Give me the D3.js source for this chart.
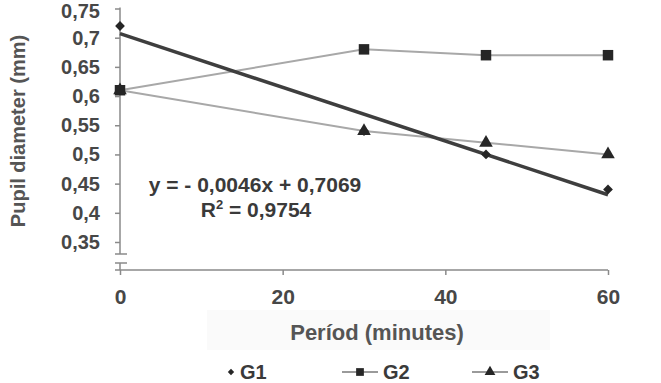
<!DOCTYPE html>
<html>
<head>
<meta charset="utf-8">
<script src="https://cdn.jsdelivr.net/npm/d3@7"></script>
<style>
html,body{margin:0;padding:0;background:#fff;}
svg{display:block;font-family:"Liberation Sans",Arial,sans-serif;}
</style>
</head>
<body>
<svg id="chart" width="661" height="383"></svg>
<script>
// ---- data ----
const periods = [0, 30, 45, 60];
const g1 = [0.72, 0.54, 0.50, 0.44];
const g2 = [0.61, 0.68, 0.67, 0.67];
const g3 = [0.61, 0.54, 0.52, 0.50];
const seriesNames = ["G1", "G2", "G3"];
const yTicks = [0.35, 0.40, 0.45, 0.50, 0.55, 0.60, 0.65, 0.70, 0.75];
const xTicks = [0, 20, 40, 60];
const trendSlope = -0.0046;
const trendIntercept = 0.7069;
const equationText = "y = - 0,0046x + 0,7069";
const r2Text = "0,9754";

const svg = d3.select("#chart");
const x = d3.scaleLinear().domain([0, 60]).range([120, 608]);
const y = d3.scaleLinear().domain([0.35, 0.75]).range([242, 8.5]);
const axisColor = "#8a8a8a";
const labelColor = "#474747";
const fmt = v => String(+v.toFixed(2)).replace(".", ",");

// faint background patch behind x title
svg.append("rect").attr("x", 207).attr("y", 310).attr("width", 343).attr("height", 40).attr("fill", "#fafafa");

// y axis
const yAxis = d3.axisLeft(y).tickValues(yTicks).tickSize(5).tickPadding(15).tickFormat(fmt);
const gy = svg.append("g").attr("transform", "translate(120,0)").call(yAxis);
gy.select(".domain").remove();
gy.selectAll(".tick line").attr("stroke", axisColor).attr("stroke-width", 1.5);
gy.selectAll(".tick text").attr("fill", labelColor).attr("font-size", 20).attr("font-weight", "bold")
  .attr("font-family", "'Liberation Sans',Arial,sans-serif")
  .attr("y", d => d === 0.75 ? 3 : 0);
// axis line with break
svg.append("line").attr("x1", 120).attr("x2", 120).attr("y1", y(0.75) - 1).attr("y2", 254)
  .attr("stroke", axisColor).attr("stroke-width", 1.5);
svg.append("line").attr("x1", 115).attr("x2", 127).attr("y1", 254).attr("y2", 254)
  .attr("stroke", axisColor).attr("stroke-width", 1.5);
svg.append("line").attr("x1", 115).attr("x2", 127).attr("y1", 263).attr("y2", 263)
  .attr("stroke", axisColor).attr("stroke-width", 1.5);
svg.append("line").attr("x1", 120).attr("x2", 120).attr("y1", 263).attr("y2", 270)
  .attr("stroke", axisColor).attr("stroke-width", 1.5);

// x axis
const xAxis = d3.axisBottom(x).tickValues(xTicks).tickSize(5).tickPadding(14).tickFormat(d3.format("d"));
const gx = svg.append("g").attr("transform", "translate(0,270)").call(xAxis);
gx.select(".domain").remove();
gx.selectAll(".tick line").attr("stroke", axisColor).attr("stroke-width", 1.5);
gx.selectAll(".tick text").attr("fill", labelColor).attr("font-size", 21).attr("font-weight", "bold")
  .attr("font-family", "'Liberation Sans',Arial,sans-serif");
svg.append("line").attr("x1", 115).attr("x2", x(60)).attr("y1", 270).attr("y2", 270)
  .attr("stroke", axisColor).attr("stroke-width", 1.5);

// axis titles
svg.append("text").attr("transform", "translate(25,131) rotate(-90)")
  .attr("text-anchor", "middle").attr("font-size", 20).attr("font-weight", "bold").attr("fill", "#555")
  .text("Pupil diameter (mm)");
svg.append("text").attr("x", 377).attr("y", 340)
  .attr("text-anchor", "middle").attr("font-size", 22).attr("font-weight", "bold").attr("fill", "#555")
  .text("Períod (minutes)");

// lines
const line = d3.line().x((d, i) => x(periods[i])).y(d => y(d));
svg.append("path").attr("d", line(g2)).attr("fill", "none").attr("stroke", "#a8a8a8").attr("stroke-width", 2);
svg.append("path").attr("d", line(g3)).attr("fill", "none").attr("stroke", "#a8a8a8").attr("stroke-width", 2);

// trend line
const trendX = [0, 60];
svg.append("path")
  .attr("d", d3.line().x(d => x(d)).y(d => y(trendSlope * d + trendIntercept))(trendX))
  .attr("fill", "none").attr("stroke", "#3e3e3e").attr("stroke-width", 3.5);

// markers
const markerColor = "#262626";
const shapes = {
  G1: { sym: d3.symbol().type(d3.symbolSquare).size(48), rot: 45 },
  G2: { sym: d3.symbol().type(d3.symbolSquare).size(110), rot: 0 },
  G3: { sym: d3.symbol().type(d3.symbolTriangle).size(80), rot: 0 }
};
[[g1, "G1"], [g2, "G2"], [g3, "G3"]].forEach(([vals, name]) => {
  svg.append("g").selectAll("path").data(vals).join("path")
    .attr("transform", (d, i) => `translate(${x(periods[i])},${y(d)}) rotate(${shapes[name].rot})`)
    .attr("d", shapes[name].sym()).attr("fill", markerColor);
});

// equation
svg.append("text").attr("x", 255).attr("y", 192).attr("text-anchor", "middle")
  .attr("font-size", 21).attr("font-weight", "bold").attr("fill", "#3a3a3a").text(equationText);
const r2 = svg.append("text").attr("x", 256).attr("y", 217).attr("text-anchor", "middle")
  .attr("font-size", 21).attr("font-weight", "bold").attr("fill", "#3a3a3a");
r2.append("tspan").text("R");
r2.append("tspan").attr("font-size", 13).attr("dy", -8).text("2");
r2.append("tspan").attr("dy", 8).text(" = " + r2Text);

// legend
const legendItems = [
  { name: seriesNames[0], cx: 231, line: false },
  { name: seriesNames[1], cx: 360, line: true },
  { name: seriesNames[2], cx: 490, line: true }
];
const lg = svg.append("g");
legendItems.forEach(it => {
  if (it.line) {
    lg.append("line").attr("x1", it.cx - 18).attr("x2", it.cx + 18).attr("y1", 372).attr("y2", 372)
      .attr("stroke", "#9a9a9a").attr("stroke-width", 2);
  }
  const s = it.name === "G1" ? d3.symbol().type(d3.symbolSquare).size(20)
          : it.name === "G2" ? d3.symbol().type(d3.symbolSquare).size(60)
          : d3.symbol().type(d3.symbolTriangle).size(50);
  lg.append("path").attr("transform", `translate(${it.cx},372) rotate(${it.name === "G1" ? 45 : 0})`)
    .attr("d", s()).attr("fill", markerColor);
  lg.append("text").attr("x", it.line ? it.cx + 23 : it.cx + 9).attr("y", 379)
    .attr("font-family", "'Liberation Sans Narrow','Liberation Sans',Arial,sans-serif")
    .attr("font-size", 20).attr("font-weight", "bold").attr("fill", "#3a3a3a").text(it.name);
});
</script>
</body>
</html>
